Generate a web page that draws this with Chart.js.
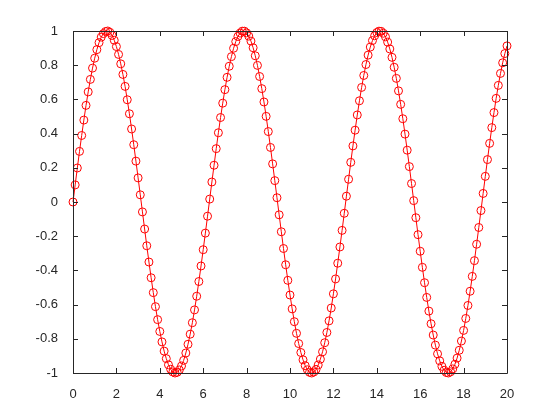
<!DOCTYPE html>
<html>
<head>
<meta charset="utf-8">
<script src="https://cdn.jsdelivr.net/npm/chart.js@4/dist/chart.umd.min.js"></script>
<style>
  html, body { margin: 0; padding: 0; background: #fff; }
  #wrap { width: 560px; height: 420px; }
</style>
</head>
<body>
<div id="wrap"><canvas id="c"></canvas></div>
<script>
// x from 0 to 20, step 0.1
const xStart = 0;
const xStep = 0.1;
const yValues = [
  0.000, 0.100, 0.199, 0.296, 0.389, 0.479, 0.565, 0.644, 0.717, 0.783,
  0.841, 0.891, 0.932, 0.964, 0.985, 0.997, 1.000, 0.992, 0.974, 0.946,
  0.909, 0.863, 0.808, 0.746, 0.676, 0.598, 0.516, 0.427, 0.335, 0.239,
  0.141, 0.042, -0.058, -0.158, -0.256, -0.351, -0.443, -0.530, -0.612, -0.688,
  -0.757, -0.818, -0.872, -0.916, -0.952, -0.978, -0.994, -1.000, -0.996, -0.982,
  -0.959, -0.926, -0.883, -0.832, -0.773, -0.706, -0.631, -0.551, -0.465, -0.374,
  -0.279, -0.182, -0.083, 0.017, 0.117, 0.215, 0.312, 0.405, 0.494, 0.578,
  0.657, 0.729, 0.794, 0.850, 0.899, 0.938, 0.968, 0.988, 0.999, 0.999,
  0.989, 0.970, 0.941, 0.902, 0.855, 0.799, 0.734, 0.663, 0.585, 0.501,
  0.412, 0.319, 0.223, 0.125, 0.025, -0.075, -0.174, -0.272, -0.367, -0.458,
  -0.544, -0.625, -0.700, -0.768, -0.828, -0.880, -0.923, -0.957, -0.981, -0.996,
  -1.000, -0.994, -0.979, -0.953, -0.919, -0.876, -0.823, -0.763, -0.695, -0.620,
  -0.537, -0.450, -0.358, -0.263, -0.166, -0.066, 0.034, 0.133, 0.232, 0.328,
  0.420, 0.509, 0.592, 0.670, 0.740, 0.804, 0.859, 0.906, 0.944, 0.972,
  0.991, 0.999, 0.998, 0.987, 0.966, 0.935, 0.895, 0.846, 0.788, 0.723,
  0.650, 0.571, 0.487, 0.397, 0.303, 0.207, 0.108, 0.008, -0.092, -0.191,
  -0.288, -0.382, -0.472, -0.558, -0.638, -0.712, -0.778, -0.837, -0.888, -0.929,
  -0.961, -0.984, -0.997, -1.000, -0.993, -0.976, -0.949, -0.913, -0.867, -0.813,
  -0.751, -0.681, -0.605, -0.522, -0.435, -0.343, -0.247, -0.149, -0.050, 0.050,
  0.150, 0.248, 0.343, 0.435, 0.523, 0.606, 0.682, 0.752, 0.814, 0.868,
  0.913
];
const xTicks = [0, 2, 4, 6, 8, 10, 12, 14, 16, 18, 20];
const yTicks = [-1, -0.8, -0.6, -0.4, -0.2, 0, 0.2, 0.4, 0.6, 0.8, 1];

const points = yValues.map((y, i) => ({ x: +(xStart + i * xStep).toFixed(1), y: y }));

const axisColor = '#262626';

// MATLAB-like box with inward ticks on all four sides
const boxTicks = {
  id: 'boxTicks',
  afterDraw(chart) {
    const { ctx, chartArea: a, scales } = chart;
    const len = 5;
    ctx.save();
    ctx.strokeStyle = axisColor;
    ctx.lineWidth = 1;
    ctx.beginPath();
    ctx.rect(Math.round(a.left) + 0.5, Math.round(a.top) + 0.5,
             Math.round(a.right - a.left), Math.round(a.bottom - a.top));
    xTicks.forEach(v => {
      const px = Math.round(scales.x.getPixelForValue(v)) + 0.5;
      ctx.moveTo(px, a.bottom); ctx.lineTo(px, a.bottom - len);
      ctx.moveTo(px, a.top); ctx.lineTo(px, a.top + len);
    });
    yTicks.forEach(v => {
      const py = Math.round(scales.y.getPixelForValue(v)) + 0.5;
      ctx.moveTo(a.left, py); ctx.lineTo(a.left + len, py);
      ctx.moveTo(a.right, py); ctx.lineTo(a.right - len, py);
    });
    ctx.stroke();
    ctx.restore();
  }
};

new Chart(document.getElementById('c'), {
  type: 'line',
  data: {
    datasets: [{
      data: points,
      borderColor: '#ff0000',
      borderWidth: 1,
      pointStyle: 'circle',
      pointRadius: 4,
      pointBorderWidth: 1,
      pointBorderColor: '#ff0000',
      pointBackgroundColor: 'rgba(0,0,0,0)',
      tension: 0,
      clip: false
    }]
  },
  options: {
    responsive: true,
    maintainAspectRatio: false,
    animation: false,
    layout: { padding: { top: 31, right: 53, left: 0, bottom: 0 } },
    plugins: { legend: { display: false }, tooltip: { enabled: false } },
    scales: {
      x: {
        type: 'linear',
        min: 0, max: 20,
        afterBuildTicks: s => { s.ticks = xTicks.map(v => ({ value: v })); },
        afterFit: s => { s.height = 47; },
        grid: { display: false },
        border: { display: false },
        ticks: {
          color: axisColor,
          padding: 6,
          maxRotation: 0,
          font: { family: 'Liberation Sans, Arial, sans-serif', size: 13 },
          callback: v => String(v)
        }
      },
      y: {
        type: 'linear',
        min: -1, max: 1,
        afterBuildTicks: s => { s.ticks = yTicks.map(v => ({ value: v })); },
        afterFit: s => { s.width = 73; },
        grid: { display: false },
        border: { display: false },
        ticks: {
          color: axisColor,
          padding: 7,
          font: { family: 'Liberation Sans, Arial, sans-serif', size: 13 },
          callback: v => String(+v.toFixed(1))
        }
      }
    }
  },
  plugins: [boxTicks]
});
</script>
</body>
</html>
